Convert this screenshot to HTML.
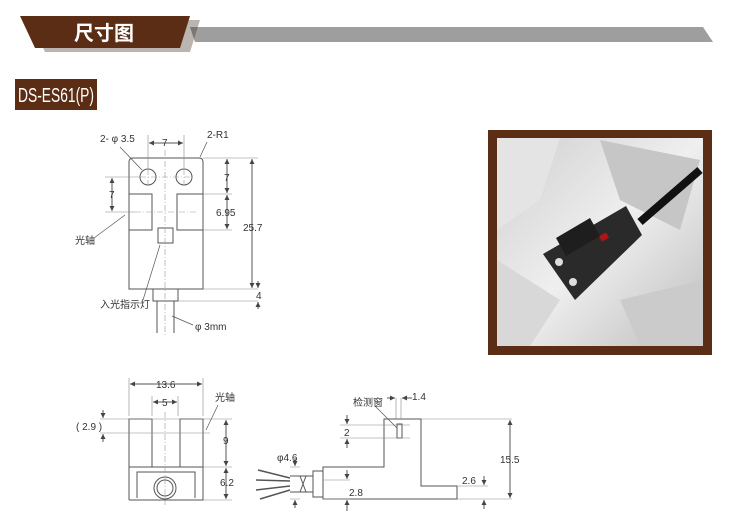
<!DOCTYPE html>
<html><head><meta charset="utf-8"><style>
html,body{margin:0;padding:0;background:#fff}
svg{display:block}
text{font-family:"Liberation Sans","Noto Sans CJK SC",sans-serif;fill:#333}
</style></head><body>
<svg width="741" height="517" viewBox="0 0 741 517" xmlns="http://www.w3.org/2000/svg">
<defs>
<marker id="a" viewBox="0 0 6 6" refX="6" refY="3" markerWidth="5" markerHeight="5" orient="auto-start-reverse"><path d="M0,0L6,3L0,6z" fill="#444"/></marker>
<linearGradient id="pg" x1="0" y1="0" x2="1" y2="1"><stop offset="0" stop-color="#cfcfcf"/><stop offset="0.5" stop-color="#efefef"/><stop offset="1" stop-color="#bdbdbd"/></linearGradient>
</defs>
<!-- header -->
<polygon points="190,27 703,27 713,42 195,42" fill="#9e9e9e"/>
<polygon points="30,20 200,20 190,52 45,52" fill="#3a2a20" opacity="0.35"/>
<polygon points="20,16 190,16 180,48 35,48" fill="#5a2d14"/>
<text x="104" y="40" font-size="20" font-weight="bold" text-anchor="middle" style="fill:#fff">尺寸图</text>
<rect x="15" y="79" width="82" height="31" fill="#5a2d14"/>
<text x="18" y="102" font-size="20" textLength="76" lengthAdjust="spacingAndGlyphs" style="fill:#fff">DS-ES61(P)</text>

<!-- photo -->
<rect x="488" y="130" width="224" height="225" fill="#5a2d14"/>
<rect x="497" y="138" width="206" height="208" fill="url(#pg)"/>
<polygon points="497,138 560,138 540,200 497,230" fill="#e4e4e4"/>
<polygon points="600,140 700,160 680,230 620,200" fill="#c6c6c6"/>
<polygon points="497,260 560,300 530,346 497,346" fill="#d8d8d8"/>
<polygon points="620,300 703,280 703,346 640,346" fill="#cbcbcb"/>
<path d="M640,222 L700,170" stroke="#111" stroke-width="8"/>
<polygon points="543,254 626,206 642,235 575,300" fill="#2a2a2a"/>
<polygon points="556,238 590,218 600,236 566,256" fill="#1e1e1e"/>
<rect x="600" y="234" width="8" height="6" fill="#b01515" transform="rotate(-30 604 237)"/>
<circle cx="559" cy="262" r="4" fill="#ddd"/><circle cx="573" cy="282" r="4" fill="#ddd"/>

<g stroke="#555" stroke-width="1" fill="none">
<!-- top view -->
<path d="M129,289 V162 Q129,158 133,158 H199 Q203,158 203,162 V289 Z"/>
<circle cx="148" cy="177" r="8"/><circle cx="184" cy="177" r="8"/>
<path d="M129,194 H152 V230 H129 M203,194 H177 V230 H203"/>
<rect x="158" y="228" width="15" height="15"/>
<rect x="153" y="289" width="25" height="12"/>
<path d="M157,301 V333 M174,301 V333"/>
<g stroke="#999" stroke-width="0.6" stroke-dasharray="6,2,1,2">
<path d="M165,150 V335 M140,177 H192 M148,169 V185 M184,169 V185 M135,212 H196"/>
</g>
<g stroke="#888" stroke-width="0.6">
<path d="M148,135 V168 M184,135 V168 M203,158 H258 M203,194 H232 M203,230 H232 M203,289 H258 M178,301 H258 M105,177 H140 M105,212 H135"/>
</g>
<g marker-start="url(#a)" marker-end="url(#a)">
<path d="M149,143 H183"/><path d="M227,159 V193"/><path d="M227,195 V229"/><path d="M252,159 V288"/><path d="M112,178 V211"/>
</g>
<g marker-end="url(#a)">
<path d="M258,281 V288"/><path d="M258,309 V302"/>
</g>
<path d="M120,147 L142,170 M207,142 L200,157 M94,238 L125,215 M143,300 L160,245 M193,325 L172,316" stroke-width="0.7"/>

<!-- front view -->
<path d="M129,500 V419 H152 V467 M180,467 V419 H203 V500 H129 M129,467 H203"/>
<path d="M137,498 V472 H195 V498"/>
<circle cx="165" cy="488" r="11"/><circle cx="165" cy="488" r="8"/>
<path d="M165,412 V505" stroke="#999" stroke-width="0.6" stroke-dasharray="6,2,1,2"/>
<g stroke="#888" stroke-width="0.6">
<path d="M129,378 V416 M203,378 V416 M152,396 V416 M178,396 V416 M100,419 H232 M100,433 H210 M203,467 H232 M203,500 H232"/>
</g>
<g marker-start="url(#a)" marker-end="url(#a)">
<path d="M130,384 H202"/><path d="M153,402 H177"/><path d="M226,420 V466"/><path d="M226,468 V499"/>
</g>
<g marker-end="url(#a)">
<path d="M103,410 V418"/><path d="M103,442 V434"/>
</g>
<path d="M218,405 L206,430" stroke-width="0.7"/>

<!-- side view -->
<path d="M384,419 H421 V486 H457 V499 H323 V467 H384 Z"/>
<rect x="313" y="471" width="10" height="26"/>
<path d="M290,476 H313 M290,492 H313 M300,476 L306,492 M306,476 L300,492"/>
<path d="M290,478 L258,470 M290,481 L256,480 M290,486 L256,490 M290,490 L260,499" stroke-width="1.5"/>
<rect x="397" y="424" width="5" height="14"/>
<g stroke="#888" stroke-width="0.6">
<path d="M396,398 V419 M401,398 V419 M421,419 H512 M457,499 H512 M457,486 H488 M340,425 H410 M340,438 H410 M290,467 H300 M290,499 H300 M323,480 H350 M323,499 H350"/>
</g>
<path d="M510,420 V498" marker-start="url(#a)" marker-end="url(#a)"/>
<g marker-end="url(#a)">
<path d="M387,398 H395"/><path d="M412,398 H402"/><path d="M347,415 V424"/><path d="M347,448 V439"/><path d="M484,476 V485"/><path d="M484,509 V500"/><path d="M295,458 V466"/><path d="M295,508 V500"/><path d="M347,511 V500"/><path d="M347,470 V479"/>
</g>
<path d="M375,406 L397,428" stroke-width="0.7"/>
</g>

<g font-size="10">
<text x="100" y="142">2- φ 3.5</text>
<text x="162" y="146">7</text>
<text x="207" y="138">2-R1</text>
<text x="224" y="181">7</text>
<text x="216" y="216">6.95</text>
<text x="243" y="231">25.7</text>
<text x="256" y="299">4</text>
<text x="109" y="198">7</text>
<text x="75" y="244">光轴</text>
<text x="100" y="308">入光指示灯</text>
<text x="195" y="330">φ 3mm</text>
<text x="156" y="388">13.6</text>
<text x="162" y="406">5</text>
<text x="76" y="430">( 2.9 )</text>
<text x="223" y="444">9</text>
<text x="220" y="486">6.2</text>
<text x="215" y="401">光轴</text>
<text x="353" y="406">检测窗</text>
<text x="412" y="400">1.4</text>
<text x="344" y="436">2</text>
<text x="277" y="461">φ4.6</text>
<text x="349" y="496">2.8</text>
<text x="462" y="484">2.6</text>
<text x="500" y="463">15.5</text>
</g>
</svg>
</body></html>
